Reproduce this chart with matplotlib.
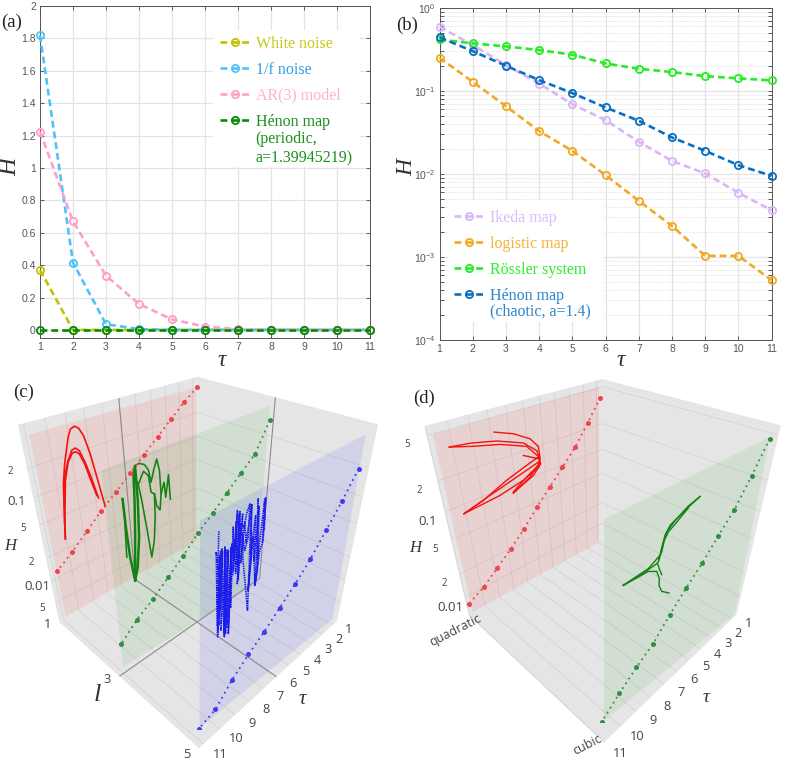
import numpy as np
import matplotlib
matplotlib.use('Agg')
import matplotlib.pyplot as plt
from matplotlib.patches import Rectangle
from matplotlib.ticker import NullFormatter
from mpl_toolkits.mplot3d import proj3d
from mpl_toolkits.mplot3d.art3d import Poly3DCollection

W, H_PX = 787, 761
plt.rcParams['font.family'] = ['Liberation Sans', 'DejaVu Sans']
plt.rcParams['grid.color'] = '#d3d3d3'
plt.rcParams['grid.linewidth'] = 0.55
SERIF = ['Liberation Serif', 'DejaVu Serif']
SANS = ['Open Sans', 'DejaVu Sans']

# ---- (a) and (b)
tau = list(range(1, 12))

white_noise = [0.37, 0, 0, 0, 0, 0, 0, 0, 0, 0, 0]
one_f_noise = [1.82, 0.415, 0.035, 0.005, 0, 0, 0, 0, 0, 0, 0]
ar3_model = [1.225, 0.67, 0.335, 0.16, 0.065, 0.02, 0.005, 0.002, 0, 0, 0]
henon_periodic = [0, 0, 0, 0, 0, 0, 0, 0, 0, 0, 0]

ikeda = [0.59, 0.355, 0.204, 0.122, 0.069, 0.0443, 0.0243, 0.0143, 0.0101, 0.0059, 0.00365]
logistic = [0.25, 0.128, 0.0653, 0.0327, 0.0189, 0.00964, 0.00473, 0.00236, 0.00103, 0.00103, 0.000524]
rossler = [0.415, 0.372, 0.342, 0.309, 0.272, 0.213, 0.184, 0.168, 0.150, 0.141, 0.133]
henon_chaotic = [0.44, 0.30, 0.2, 0.1345, 0.0937, 0.063, 0.0435, 0.0274, 0.0189, 0.0127, 0.00946]

# ---- (c): dots
c_red_H = [0.43, 0.323, 0.23, 0.164, 0.116, 0.0819, 0.0576, 0.0416, 0.0284, 0.0195, 0.014]
c_green_H = [0.318, 0.157, 0.114, 0.0808, 0.0567, 0.0413, 0.0277, 0.0195, 0.0137, 0.0102, 0.00685]
c_blue_H = [0.199, 0.112, 0.0676, 0.0405, 0.027, 0.0192, 0.0135, 0.01, 0.00701, 0.00437, 0.00372]

# ---- (c): red curves, l=1
ra_t = [10.05, 9.9, 9.65, 9.42, 9.03, 8.85, 8.62, 8.42, 8.21, 7.98, 7.77, 7.49]
ra_H = [0.0263, 0.0466, 0.106, 0.167, 0.296, 0.349, 0.363, 0.338, 0.276, 0.172, 0.092, 0.0392]
rb_t = [10.05, 9.75, 9.53, 9.22, 8.93, 8.74, 8.55, 8.32, 8.1, 7.83]
rb_H = [0.0263, 0.0704, 0.123, 0.176, 0.217, 0.222, 0.203, 0.147, 0.097, 0.0532]
rc_t = [9.91, 9.52, 9.23, 8.95, 8.77, 8.57, 8.36, 8.16, 7.91]
rc_H = [0.0426, 0.113, 0.169, 0.201, 0.204, 0.188, 0.142, 0.094, 0.0576]

# ---- (c): green curves, l=3
ga_t = [10.09, 10.08, 10.16]
ga_H = [0.205, 0.138, 0.0558]
gb_t = [10.09, 10.06, 9.99, 9.84, 9.64, 9.44, 9.36, 9.36, 9.47, 9.52, 9.63, 9.84]
gb_H = [0.205, 0.11, 0.0536, 0.0285, 0.0383, 0.0766, 0.173, 0.358, 0.308, 0.179, 0.0864, 0.0285]
gc_t = [9.36, 9.16, 8.9, 8.72, 8.62, 8.46, 8.26, 8.15, 8.12, 8.22, 8.39, 8.48]
gc_H = [0.358, 0.364, 0.341, 0.297, 0.226, 0.281, 0.347, 0.268, 0.16, 0.113, 0.129, 0.171]
gd_t = [9.26, 8.97, 8.74, 8.65, 8.48]
gd_H = [0.243, 0.301, 0.265, 0.183, 0.171]
ge_t = [9.29, 9.16, 9.0, 8.83, 8.63, 8.51, 8.48]
ge_H = [0.253, 0.167, 0.0883, 0.0406, 0.059, 0.101, 0.171]
gf_t = [8.12, 7.93, 7.87, 7.67, 7.61]
gf_H = [0.16, 0.201, 0.142, 0.228, 0.13]

# ---- (c): blue curves, l=5
bl_t = [10.37, 10.37, 10.37, 10.28, 10.27, 10.47, 10.37, 10.26, 10.26, 10.14, 10.24, 10.19, 10.04, 9.91, 10.06,
        9.85, 9.92, 9.81, 9.7, 9.69, 9.71, 9.76, 9.63, 9.66, 9.69, 9.57, 9.57, 9.58, 9.52, 9.48, 9.28, 9.4, 9.27,
        9.33, 9.31, 9.13, 9.05, 8.91, 8.88, 9.02, 9.2, 9.09, 8.62, 8.75, 8.82, 8.65, 8.67, 8.6, 8.29, 8.34, 8.49,
        8.2, 8.28, 8.16, 8.01, 8.07, 8.0]
bl_H = [0.331, 0.208, 0.109, 0.038, 0.129, 0.235, 0.0884, 0.044, 0.229, 0.0886, 0.0593, 0.232, 0.0804, 0.0336,
        0.233, 0.0356, 0.212, 0.0445, 0.229, 0.0338, 0.0906, 0.217, 0.06, 0.164, 0.308, 0.172, 0.236, 0.132, 0.398,
        0.217, 0.0996, 0.389, 0.131, 0.094, 0.302, 0.274, 0.343, 0.398, 0.215, 0.172, 0.246, 0.146, 0.0422, 0.172,
        0.392, 0.138, 0.0678, 0.203, 0.0711, 0.137, 0.402, 0.093, 0.0683, 0.14, 0.166, 0.384, 0.203]
bl2_t = [10.33, 10.30, 10.22, 10.17, 10.11, 10.0, 9.95, 9.88, 9.79, 9.73]
bl2_H = [0.05, 0.21, 0.05, 0.22, 0.042, 0.22, 0.038, 0.21, 0.04, 0.22]
bl3_t = [9.6, 9.55, 9.45, 9.42, 9.35, 9.25, 9.2, 9.12, 8.98, 8.8, 8.7, 8.55, 8.45, 8.4, 8.25, 8.12, 8.05]
bl3_H = [0.12, 0.33, 0.12, 0.37, 0.14, 0.36, 0.14, 0.3, 0.2, 0.38, 0.15, 0.3, 0.12, 0.35, 0.12, 0.38, 0.16]

# ---- (d): dots
d_red_H = [0.411, 0.245, 0.15, 0.102, 0.0701, 0.0477, 0.0314, 0.0218, 0.0157, 0.0113, 0.00891]
d_green_H = [0.483, 0.267, 0.156, 0.109, 0.0737, 0.0531, 0.0371, 0.0246, 0.019, 0.014, 0.00981]

# ---- (d): red curves, quadratic
d1_t = [7.82, 6.76, 5.8, 5.32, 5.27, 5.43, 6.25, 7.19]
d1_H = [0.369, 0.315, 0.251, 0.198, 0.151, 0.126, 0.106, 0.0837]
d2_t = [10.15, 9.05, 7.74, 6.23, 5.45, 5.28, 5.39, 6.48, 8.0, 10.11]
d2_H = [0.359, 0.34, 0.302, 0.24, 0.182, 0.146, 0.12, 0.101, 0.088, 0.0811]
d3_t = [10.15, 9.0, 7.59, 6.05, 5.33]
d3_H = [0.359, 0.315, 0.275, 0.217, 0.153]
d4_t = [6.31, 5.39]
d4_H = [0.181, 0.148]
d5_t = [10.11, 8.97, 7.49, 6.17, 5.38, 5.26, 5.81, 6.74, 7.19]
d5_H = [0.0811, 0.0917, 0.118, 0.14, 0.154, 0.128, 0.103, 0.0884, 0.0817]
d6_t = [10.11, 8.56, 6.87, 5.41]
d6_H = [0.0811, 0.0967, 0.116, 0.136]
d7_t = [7.19, 6.04, 5.3]
d7_H = [0.0817, 0.102, 0.134]

# ---- (d): green curves, cubic
e1_t = [6.13, 6.9, 7.54, 7.97, 8.11, 8.23, 8.84, 10.11]
e1_H = [0.358, 0.331, 0.304, 0.27, 0.233, 0.188, 0.169, 0.171]
e2_t = [6.13, 6.82, 7.36, 7.81, 8.05, 8.17, 8.26, 8.38, 9.27, 10.11]
e2_H = [0.358, 0.341, 0.312, 0.294, 0.259, 0.209, 0.172, 0.166, 0.166, 0.171]
e3_t = [6.8, 7.43, 7.87, 8.06, 8.15, 8.31]
e3_H = [0.329, 0.289, 0.265, 0.237, 0.196, 0.179]
e4_t = [10.11, 9.36, 8.83, 8.34, 8.14, 8.12, 7.91, 7.41]
e4_H = [0.171, 0.164, 0.16, 0.142, 0.117, 0.101, 0.0847, 0.0713]
e5_t = [8.32, 8.2, 8.02]
e5_H = [0.164, 0.144, 0.123]

# ---- tick labels
a_yticks = [0, 0.2, 0.4, 0.6, 0.8, 1, 1.2, 1.4, 1.6, 1.8, 2]
a_ylabels = ['0', '0.2', '0.4', '0.6', '0.8', '1', '1.2', '1.4', '1.6', '1.8', '2']
c_H_ticks = [0.2, 0.1, 0.05, 0.02, 0.01, 0.005]
c_H_labels = ['2', '0.1', '5', '2', '0.01', '5']
d_H_ticks = [0.5, 0.2, 0.1, 0.05, 0.02, 0.01]
d_H_labels = ['5', '2', '0.1', '5', '2', '0.01']

fig = plt.figure(figsize=(W / 100, H_PX / 100), dpi=100, facecolor='white')


def px(x, y):
    return x / W, 1 - y / H_PX


def box(left, top, right, bottom):
    return [left / W, 1 - bottom / H_PX, (right - left) / W, (bottom - top) / H_PX]


def estilo_2d(ax):
    ax.set_xlim(1, 11)
    ax.set_xticks(tau)
    ax.tick_params(which='both', direction='in', top=True, right=True, length=3, width=0.6,
                   color='#444444', labelcolor='#555555', labelsize=7.5, pad=3)
    for s in ax.spines.values():
        s.set_color('#555555')
        s.set_linewidth(0.7)
    ax.grid(True, which='major', color='#e4e4e4', linewidth=0.9)
    ax.set_axisbelow(True)


def serie(ax, y, color, label):
    ax.plot(tau, y, color=color, lw=1.9, dashes=(2.6, 1.5), marker='o', ms=5.2, mfc='none', mew=1.3,
            clip_on=False, label=label, zorder=3)


def leyenda(ax, colores, pos):
    ax.legend(loc='upper left', bbox_to_anchor=pos, bbox_transform=fig.transFigure,
              frameon=False, prop={'family': SERIF, 'size': 11.5}, handlelength=1.85, handletextpad=0.42,
              labelspacing=0.62, borderpad=0.3, borderaxespad=0, labelcolor=colores)


def fondo(ax, left, top, right, bottom):
    x, y = px(left, bottom)
    ax.add_patch(Rectangle((x, y), (right - left) / W, (bottom - top) / H_PX, transform=fig.transFigure,
                           facecolor='white', edgecolor='none', zorder=1.5))


# (a)
ax_a = fig.add_axes(box(40, 6, 370, 338))
estilo_2d(ax_a)
ax_a.set_ylim(-0.05, 2)
ax_a.set_yticks(a_yticks)
ax_a.set_yticklabels(a_ylabels)
fondo(ax_a, 213, 30, 360, 167)
serie(ax_a, white_noise, '#c2c200', 'White noise')
serie(ax_a, one_f_noise, '#4fc3f7', '1/f noise')
serie(ax_a, ar3_model, '#ff9fca', 'AR(3) model')
serie(ax_a, henon_periodic, '#078a07', 'Hénon map')
leyenda(ax_a, ['#c8c81e', '#2f9fe3', '#ffb0d2', '#1d8f1d'], px(215, 31))
fig.text(*px(255.5, 139), '(periodic,', family=SERIF, fontsize=11.5, color='#1d8f1d', va='center')
fig.text(*px(255.5, 158), 'a=1.39945219)', family=SERIF, fontsize=11.5, color='#1d8f1d', va='center')

# (b)
ax_b = fig.add_axes(box(439.5, 7.7, 771.7, 340))
estilo_2d(ax_b)
ax_b.set_yscale('log')
ax_b.set_ylim(1e-4, 1)
ax_b.set_yticks([1e-4, 1e-3, 1e-2, 1e-1, 1])
ax_b.yaxis.set_minor_formatter(NullFormatter())
ax_b.grid(True, which='minor', axis='y', color='#cccccc', linewidth=0.5, linestyle=':')
fondo(ax_b, 448, 200, 603, 322)
serie(ax_b, ikeda, '#d9b6f9', 'Ikeda map')
serie(ax_b, logistic, '#f2a922', 'logistic map')
serie(ax_b, rossler, '#25ec25', 'Rössler system')
serie(ax_b, henon_chaotic, '#0b6fc0', 'Hénon map')
leyenda(ax_b, ['#dcbcfa', '#f5b433', '#2bee2b', '#2a86cc'], px(449, 205))
fig.text(*px(489.5, 311.5), '(chaotic, a=1.4)', family=SERIF, fontsize=11.5, color='#2a86cc', va='center')


def panel_3d(pos, elev, azim, f, kz, tau_lim, y_lim, h_lim, h_ticks):
    ax = fig.add_axes(box(*pos), projection='3d')
    ax.patch.set_alpha(0)
    ax.computed_zorder = False
    ax.view_init(elev=elev, azim=azim)
    ax.set_proj_type('persp', focal_length=f)
    ax.set_box_aspect((1, 1, kz))
    ax.set_xlim(*tau_lim)
    ax.set_ylim(*y_lim)
    ax.set_zlim(*h_lim)
    ax.set_xticks(tau)
    ax.set_yticks([])
    ax.set_zticks(np.log10(h_ticks))
    ax.set_xticklabels([])
    ax.set_zticklabels([])
    for eje in (ax.xaxis, ax.yaxis, ax.zaxis):
        eje.set_pane_color((0.898, 0.898, 0.898, 1))
        eje.pane.set_edgecolor((0.898, 0.898, 0.898, 1))
        eje.line.set_linewidth(0)
        eje._axinfo['tick']['inward_factor'] = 0
        eje._axinfo['tick']['outward_factor'] = 0
    return ax


def plano(ax, t, y, h, color):
    verts = [list(zip(t, [y] * 4, np.log10(h)))]
    ax.add_collection3d(Poly3DCollection(verts, facecolor=color, edgecolor='none', zorder=1))


def curva(ax, t, y, h, color, lw=1.1, ls='-'):
    ax.plot(t, [y] * len(t), np.log10(h), color=color, lw=lw, ls=ls, zorder=3)


def puntos(ax, y, h, color):
    ax.plot(tau, [y] * 11, np.log10(h), color=color, lw=1.3, ls=(0, (1, 2.2)), marker='o', ms=3.6,
            mew=0, zorder=4)


def texto(ax, x, y, z, s, fs):
    # the 3D point is sent through the axes' own projection, the text itself stays 2D
    xp, yp, _ = proj3d.proj_transform(x, y, z, ax.get_proj())
    ax.text2D(xp, yp, s, transform=ax.transData, family=SANS, color='#444444', fontsize=fs,
              ha='center', va='center', zorder=5)


def etiquetas(ax, tau_lim, h_lim, h_ticks, h_labels, dx, dz):
    t0, t1 = tau_lim
    z0, z1 = h_lim
    y0, y1 = ax.get_ylim()
    for t in tau:
        texto(ax, t, y1 + 0.09 * (y1 - y0), z0 + 0.026 * (z1 - z0), str(t), 9.2)
    for v, s in zip(h_ticks, h_labels):
        texto(ax, t1 + dx * (t1 - t0), y0, np.log10(v) + dz * (z1 - z0), s, 9.5 if '.' in s else 7)


# (c)
c_tau_lim = (0.589, 11.226)
c_l_lim = (1, 5)
c_h_lim = (-2.580, -0.294)
ax_c = panel_3d((4.6, 352.9, 381.7, 729.0), 32.833, 44.74, 0.236, 1.04, c_tau_lim, c_l_lim, c_h_lim, c_H_ticks)
plano(ax_c, [10.85, 0.7, 0.7, 10.85], 1, [0.4, 0.395, 0.00312, 0.00277], (1, 0, 0, 0.085))
plano(ax_c, [10.9, 1.0, 0.9, 11.0], 3, [0.416, 0.441, 0.00233, 0.00322], (0, 0.6, 0, 0.085))
plano(ax_c, [11.2, 1.5, 1.1, 11.2], 5, [0.471, 0.468, 0.00328, 0.00476], (0, 0, 1, 0.085))
# dark centre lines
ax_c.plot([6, 6, 6], [1, 1, 5], [c_h_lim[1], c_h_lim[0], c_h_lim[0]], color='#8c8c8c', lw=0.8, zorder=2)
ax_c.plot([0.589, 0.589, 11.226], [3, 3, 3], [c_h_lim[1], c_h_lim[0], c_h_lim[0]], color='#8c8c8c', lw=0.8, zorder=2)
for t_, h_ in ((ra_t, ra_H), (rb_t, rb_H), (rc_t, rc_H)):
    curva(ax_c, t_, 1, h_, '#f80f0f', 1.2)
for t_, h_ in ((ga_t, ga_H), (gc_t, gc_H), (gd_t, gd_H), (ge_t, ge_H), (gf_t, gf_H)):
    curva(ax_c, t_, 3, h_, '#128212', 1.15)
curva(ax_c, gb_t, 3, gb_H, '#128212', 1.8)
for t_, h_ in ((bl_t, bl_H), (bl2_t, bl2_H), (bl3_t, bl3_H)):
    curva(ax_c, t_, 5, h_, '#1c1ceb', 1.2, (0, (0.9, 0.5)))
puntos(ax_c, 1.148, c_red_H, '#ef4450')
puntos(ax_c, 3.032, c_green_H, '#2f8f45')
puntos(ax_c, 4.908, c_blue_H, '#3d3df0')
etiquetas(ax_c, c_tau_lim, c_h_lim, c_H_ticks, c_H_labels, 0.075, 0.01)
for v in (1, 3, 5):
    texto(ax_c, 11.226 + 0.065 * 10.637, v, -2.580 + 0.026 * 2.286, str(v), 9.2)

# (d)
d_tau_lim = (0.549, 11.0)
d_y_lim = (0, 1)
d_h_lim = (-2.245, -0.229)
ax_d = panel_3d((415.0, 351.3, 780.8, 726.3), 33.813, 44.716, 0.22, 1.033, d_tau_lim, d_y_lim, d_h_lim, d_H_ticks)
plano(ax_d, [10.75, 0.8, 0.9, 10.8], 0, [0.496, 0.507, 0.00549, 0.00593], (1, 0, 0, 0.085))
plano(ax_d, [11.0, 1.3, 0.7, 11.0], 1, [0.6, 0.523, 0.00601, 0.0106], (0, 0.6, 0, 0.085))
for t_, h_ in ((d1_t, d1_H), (d2_t, d2_H), (d3_t, d3_H), (d4_t, d4_H), (d5_t, d5_H), (d6_t, d6_H), (d7_t, d7_H)):
    curva(ax_d, t_, 0, h_, '#f80f0f', 1.0)
for t_, h_ in ((e1_t, e1_H), (e2_t, e2_H), (e3_t, e3_H), (e4_t, e4_H), (e5_t, e5_H)):
    curva(ax_d, t_, 1, h_, '#128212', 1.0)
puntos(ax_d, 0.028, d_red_H, '#ef4450')
puntos(ax_d, 0.989, d_green_H, '#2f8f45')
etiquetas(ax_d, d_tau_lim, d_h_lim, d_H_ticks, d_H_labels, 0.085, -0.012)
fig.text(*px(455, 630), 'quadratic', family=SANS, color='#444444', fontsize=9, rotation=27, ha='center', va='center')
fig.text(*px(587, 745), 'cubic', family=SANS, color='#444444', fontsize=9, rotation=27, ha='center', va='center')

# panel letters and axis names
for s, x, y in (('(a)', 12, 22), ('(b)', 407, 25), ('(c)', 24, 392), ('(d)', 424, 398)):
    fig.text(*px(x, y), s, family=SERIF, fontsize=13.5, ha='center', va='center', color='#222222')
nombres = [('H', 10, 167, 18, 90), ('τ', 222, 360, 17, 0), ('H', 407, 168, 17, 90), ('τ', 621, 361, 17, 0),
           ('H', 10, 546, 12, 0), ('τ', 302, 700, 15, 0), ('l', 97, 695, 19, 0), ('H', 415, 548, 12, 0),
           ('τ', 706, 698, 14, 0)]
for s, x, y, fs, rot in nombres:
    fig.text(*px(x, y), s, family=SERIF, style='italic', fontsize=fs, rotation=rot, ha='center', va='center',
             color='#333333')

fig.savefig('out.png', dpi=100)
